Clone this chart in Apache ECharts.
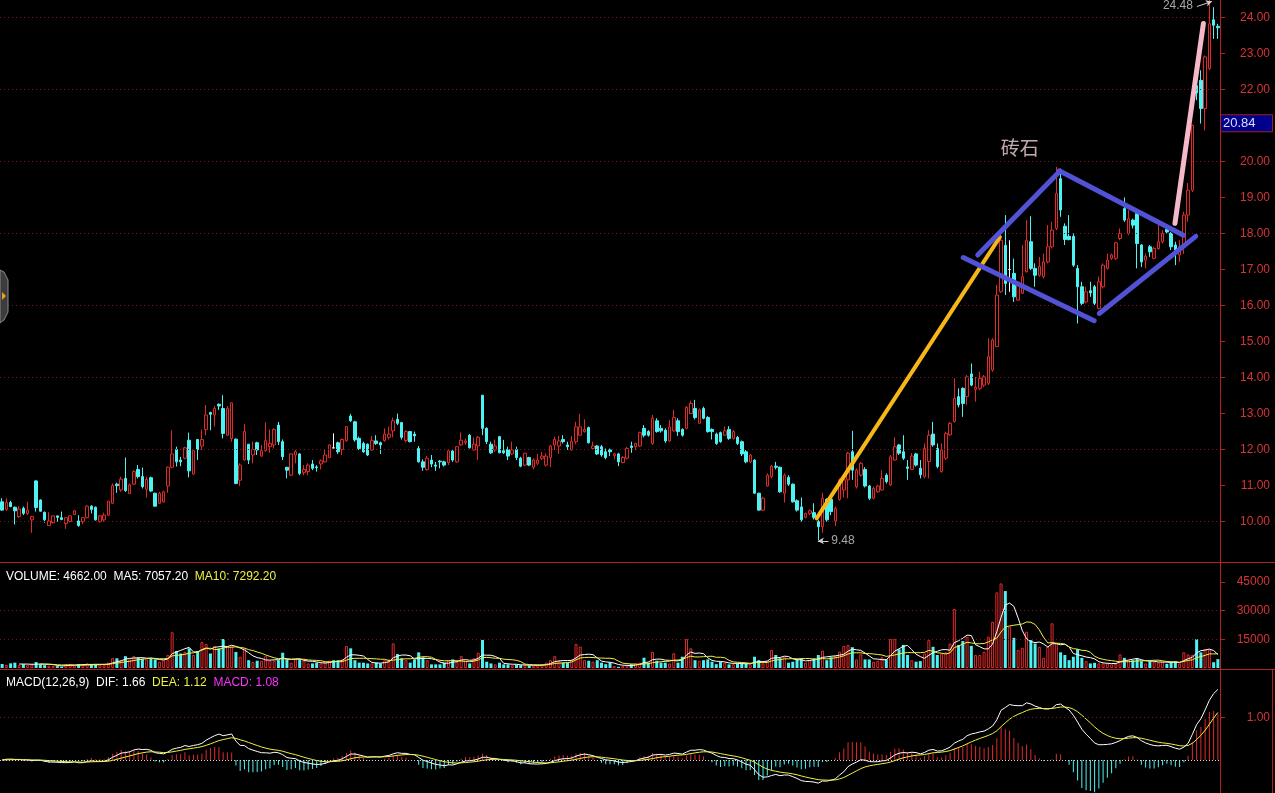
<!DOCTYPE html>
<html><head><meta charset="utf-8">
<script src="https://cdn.jsdelivr.net/npm/echarts@6/dist/echarts.min.js"></script>
<style>html,body{margin:0;padding:0;background:#000;}#c{width:1275px;height:793px;}</style>
</head><body><div id="c"></div>
<script>
// each candle: [open, close, low, high]
const candles = [
[10.55,10.32,10.30,10.65],[10.34,10.53,10.30,10.65],[10.53,10.42,10.40,10.58],[10.40,10.30,9.92,10.42],[10.14,10.35,10.11,10.43],
[10.37,10.23,10.18,10.42],[10.23,10.32,10.18,10.55],[10.05,10.14,9.69,10.16],[11.13,10.39,10.28,11.15],[10.60,10.29,10.28,10.62],
[10.26,10.05,9.97,10.28],[9.89,10.02,9.89,10.26],[9.97,10.16,9.95,10.18],[10.16,10.12,10.00,10.17],[10.11,10.06,10.04,10.28],
[9.95,10.11,9.80,10.13],[10.00,10.16,9.98,10.18],[10.20,10.30,10.18,10.32],[10.02,9.89,9.86,10.18],[10.00,10.11,9.93,10.12],
[10.11,10.43,10.09,10.45],[10.43,10.34,10.23,10.46],[10.40,10.05,10.03,10.42],[10.00,10.16,9.97,10.18],[10.05,10.18,10.00,10.25],
[10.18,10.57,10.16,10.57],[10.51,11.00,10.49,11.06],[11.04,11.00,10.80,11.08],[10.88,11.18,10.83,11.25],[11.20,10.86,10.83,11.78],
[10.78,11.02,10.77,11.06],[11.04,11.39,11.02,11.43],[11.45,11.25,11.20,11.57],[11.25,10.97,10.92,11.50],[10.90,11.17,10.67,11.25],
[11.22,10.85,10.83,11.25],[10.79,10.43,10.42,10.80],[10.51,10.79,10.49,10.83],[10.55,10.83,10.53,10.86],[10.99,11.51,10.80,11.53],
[11.51,11.88,11.48,12.54],[12.00,11.66,11.53,12.08],[11.71,11.66,11.54,11.80],[11.76,12.05,11.73,12.08],[12.26,11.41,11.23,12.47],
[11.32,11.97,11.31,11.99],[12.28,12.00,11.71,12.28],[12.10,12.28,11.99,12.56],[12.56,12.96,12.40,13.24],[13.03,12.98,12.54,13.05],
[12.96,13.14,12.64,13.21],[13.26,13.21,13.10,13.28],[13.14,12.45,12.31,13.51],[12.40,13.14,12.38,13.21],[12.31,13.30,12.22,13.30],
[12.29,11.06,11.04,12.31],[11.15,11.57,10.99,11.62],[11.71,12.50,11.69,12.71],[12.15,11.71,11.60,12.15],[11.85,12.00,11.62,12.22],
[12.19,11.99,11.85,12.22],[11.82,11.97,11.80,12.13],[11.97,12.25,11.94,12.76],[12.08,12.17,11.91,12.56],[12.13,12.56,12.03,12.59],
[12.68,12.22,12.13,12.77],[12.22,11.80,11.71,12.28],[11.51,11.43,11.20,11.51],[11.29,11.88,11.27,11.90],[11.85,11.94,11.62,11.99],
[11.88,11.34,11.29,11.90],[11.36,11.45,11.29,11.57],[11.39,11.57,11.29,11.62],[11.60,11.48,11.43,11.71],[11.52,11.50,11.39,11.57],
[11.60,11.69,11.45,11.73],[11.66,11.85,11.64,11.99],[11.78,12.13,11.76,12.15],[12.05,12.05,12.03,12.45],[12.19,11.94,11.88,12.22],
[12.00,12.28,11.85,12.31],[12.25,12.64,12.22,12.65],[12.93,12.80,12.77,12.99],[12.77,12.27,12.22,12.80],[12.31,12.03,11.99,12.36],
[12.17,11.94,11.91,12.22],[12.15,11.85,11.82,12.17],[11.99,12.25,11.97,12.38],[12.24,12.17,12.13,12.40],[12.19,12.13,11.88,12.22],
[12.25,12.43,12.22,12.59],[12.34,12.43,12.28,12.64],[12.52,12.80,12.34,12.89],[12.84,12.73,12.68,13.00],[12.75,12.34,12.28,12.77],
[12.25,12.50,12.20,12.54],[12.50,12.22,12.20,12.52],[12.43,12.38,12.22,12.50],[12.03,11.66,11.64,12.10],[11.66,11.51,11.41,11.73],
[11.45,11.76,11.41,11.82],[11.71,11.60,11.51,11.85],[11.57,11.54,11.41,11.66],[11.68,11.66,11.48,11.71],[11.66,11.57,11.53,11.69],
[11.64,11.97,11.57,11.99],[11.96,11.71,11.66,11.99],[11.66,12.08,11.64,12.10],[12.13,12.26,12.10,12.47],[12.20,12.24,12.13,12.31],
[12.40,12.05,12.03,12.43],[11.99,12.15,11.97,12.34],[12.10,12.34,11.71,12.38],[13.51,12.59,12.40,13.51],[12.59,12.22,12.15,12.62],
[12.15,11.91,11.88,12.22],[11.99,12.10,11.94,12.28],[12.36,11.91,11.90,12.38],[11.97,11.91,11.88,12.27],[12.00,11.82,11.71,12.08],
[11.88,11.99,11.85,12.22],[12.00,11.78,11.71,12.08],[11.76,11.54,11.51,11.80],[11.57,11.90,11.54,11.91],[11.78,11.57,11.54,11.80],
[11.51,11.71,11.45,11.76],[11.62,11.71,11.57,11.88],[11.76,11.82,11.71,11.94],[11.57,11.82,11.53,11.90],[11.78,12.10,11.51,12.13],
[12.13,12.28,11.99,12.36],[12.10,12.24,11.88,12.38],[12.28,12.22,12.17,12.40],[12.13,12.08,11.99,12.22],[11.99,12.22,11.97,12.38],
[12.22,12.63,12.15,12.77],[12.40,12.63,12.38,12.99],[12.50,12.56,12.47,12.84],[12.61,12.19,12.17,12.64],[12.03,12.10,11.99,12.22],
[12.10,11.88,11.85,12.13],[12.08,11.85,11.80,12.13],[11.94,11.78,11.73,12.03],[11.99,11.94,11.82,12.03],[11.83,11.88,11.73,11.91],
[11.88,11.66,11.54,11.91],[11.64,11.78,11.62,11.82],[11.76,12.03,11.73,12.08],[12.10,12.06,11.91,12.22],[12.08,12.17,11.99,12.19],
[12.10,12.47,12.08,12.50],[12.59,12.40,12.34,12.68],[12.50,12.40,12.36,12.54],[12.17,12.87,12.13,12.96],[12.80,12.50,12.47,12.87],
[12.59,12.52,12.47,12.68],[12.54,12.24,12.19,12.59],[12.24,12.63,12.22,12.82],[12.52,12.89,12.50,13.10],[12.80,12.50,12.38,12.87],
[12.56,12.40,12.36,12.59],[12.59,13.17,12.56,13.21],[13.00,13.28,12.99,13.36],[13.14,12.89,12.84,13.38],[12.73,13.10,12.71,13.14],
[13.14,12.87,12.84,13.19],[12.89,12.50,12.47,12.93],[12.56,12.50,12.28,12.59],[12.43,12.17,12.13,12.47],[12.47,12.22,12.19,12.50],
[12.40,12.52,12.38,12.64],[12.56,12.31,12.27,12.65],[12.31,12.50,12.28,12.54],[12.34,12.17,12.13,12.38],[12.22,11.88,11.82,12.25],
[11.94,11.66,11.62,11.99],[11.66,11.85,11.62,11.88],[11.71,10.79,10.77,11.73],[10.79,10.32,10.30,10.80],[10.32,10.65,10.30,10.69],
[10.99,11.29,10.97,11.34],[11.25,11.54,11.20,11.57],[11.54,11.51,11.45,11.66],[11.51,10.83,10.80,11.53],[10.79,11.29,10.53,11.34],
[11.23,11.04,10.99,11.29],[11.04,10.55,10.53,11.06],[10.58,10.32,10.28,10.62],[10.41,10.05,10.00,10.67],[10.12,10.23,10.09,10.25],
[10.23,10.30,10.18,10.34],[10.25,10.12,10.06,10.51],[10.00,9.86,9.48,10.05],[9.86,10.65,9.69,10.80],[10.62,10.05,10.00,10.65],
[10.62,10.28,10.18,10.65],[10.02,10.37,9.88,10.42],[10.62,11.16,10.58,11.20],[10.88,11.16,10.67,11.20],[11.16,11.90,10.65,11.94],
[11.94,11.43,11.16,12.52],[10.97,11.43,10.92,11.48],[11.29,11.62,11.25,11.66],[11.45,10.99,10.95,11.51],[10.99,10.65,10.60,11.02],
[10.65,10.92,10.62,10.97],[10.83,10.99,10.80,11.02],[10.88,11.20,10.86,11.43],[11.29,11.11,11.06,11.34],[11.02,11.80,10.99,11.85],
[11.71,12.08,11.69,12.34],[12.13,11.90,11.85,12.15],[11.94,11.76,11.71,12.40],[11.52,11.48,11.16,11.71],[11.45,11.82,11.43,11.90],
[11.88,11.57,11.53,11.91],[11.48,11.30,11.20,11.71],[11.25,12.03,11.20,12.17],[11.67,12.40,11.20,12.54],[12.43,12.13,12.08,12.77],
[12.03,11.53,11.48,12.17],[11.39,11.99,11.36,12.17],[11.76,12.45,11.71,12.50],[12.41,12.73,12.38,12.77],[12.78,13.42,12.75,13.98],
[13.47,13.24,13.17,13.70],[13.70,13.28,12.91,13.73],[13.47,14.02,13.24,14.07],[14.10,13.79,13.76,14.39],[13.67,13.73,13.33,14.02],
[13.70,13.98,13.65,14.16],[13.79,14.02,13.73,14.07],[13.84,14.58,13.79,15.09],[14.21,15.04,14.16,15.09],[14.86,16.29,14.84,16.57],
[16.38,17.81,16.35,18.04],[17.67,16.61,16.29,18.51],[17.00,17.00,16.38,17.81],[16.89,16.24,16.10,17.30],[16.15,16.57,16.13,16.66],
[16.34,16.80,16.32,17.68],[16.94,17.81,16.91,18.37],[17.77,17.03,16.98,18.48],[17.03,16.84,16.52,17.17],[16.84,17.09,16.80,17.35],
[16.80,17.21,16.75,17.44],[17.21,17.63,17.17,18.23],[17.63,18.09,17.58,18.32],[18.14,19.11,18.09,19.85],[19.52,18.65,18.46,19.80],
[18.20,17.83,17.68,18.28],[17.92,17.83,17.81,18.51],[17.92,17.12,17.07,18.00],[17.03,16.52,15.50,17.12],[16.52,16.06,16.01,16.66],
[16.10,16.38,16.06,16.52],[16.41,16.35,16.24,16.66],[16.52,16.06,16.01,16.57],[15.92,16.66,15.89,16.80],[16.52,17.12,16.47,17.17],
[17.03,17.26,17.00,17.44],[17.31,17.40,17.26,17.44],[17.31,17.74,17.26,17.77],[17.86,18.00,17.81,18.14],[18.69,18.37,18.32,19.00],
[18.00,18.41,17.95,18.65],[18.37,18.23,18.14,18.41],[18.55,17.72,17.03,18.60],[17.68,17.21,17.07,17.70],[17.26,17.37,17.03,17.44],
[17.63,17.49,17.35,17.68],[17.31,17.58,17.28,17.63],[17.58,17.77,17.55,18.37],[17.77,18.00,17.72,18.09],[18.11,18.04,18.00,18.23],
[18.00,17.63,17.54,18.04],[17.68,17.54,17.12,17.77],[17.40,17.63,17.21,17.81],[17.63,18.51,17.43,18.60],[18.51,19.20,18.32,19.40],
[19.20,21.00,19.15,21.02],[22.10,21.90,21.70,22.20],[22.25,21.47,21.05,22.53],[21.47,22.90,20.86,22.94],[22.58,23.82,22.53,24.48],
[23.93,23.78,23.40,24.28],[23.75,23.71,23.40,23.82]
];
const volumes = [
2100,1575,2450,2800,1500,2000,1500,1900,3100,2000,
1500,1200,1200,1000,700,2000,2000,1500,2000,1500,
2400,1900,1900,1900,1500,2800,5200,5100,4100,6200,
4500,6200,5500,4900,4500,4900,4500,3300,4100,6800,
18700,8900,7600,8500,10300,6800,8900,13600,12600,7600,
11500,10300,15200,11500,11200,8400,5900,10300,4100,3100,
3800,3800,6200,3800,3800,4100,8000,4500,2800,4500,
4500,3800,2400,2400,2800,2400,3000,3800,4100,4100,
4500,11500,10300,4100,2800,2800,2400,2400,2800,2400,
4100,4500,12900,7300,5100,4100,2800,4500,8200,5600,
4100,1900,1900,1900,2800,4100,4500,3300,6200,3800,
2400,5100,8000,14700,3300,2400,1900,2800,1900,1900,
1400,1700,1500,1500,1300,1200,1500,1900,2800,4100,
6200,3600,2800,2800,4500,12600,11200,4100,3800,3300,
4100,2800,2000,2800,1000,600,1000,1500,2000,2400,
2800,5400,2800,8400,3800,2800,2800,2400,7700,2800,
5900,15200,10300,4100,3800,4100,4500,3300,2000,3300,
2800,1900,2000,2400,2400,2400,1900,5900,4100,2400,
3800,9400,6800,5100,5900,2800,3300,4500,5100,2800,
4100,5100,6800,9100,4100,5600,6200,8600,11500,12100,
10900,4500,7200,4500,4500,3300,3800,5600,4500,15200,
15200,9800,12100,6800,4100,3300,3600,7600,14600,11100,
6800,7600,8200,12800,30900,12000,14100,16400,11600,6800,
6800,8500,16400,24200,39600,44300,40300,21600,15800,9400,
10600,19000,14600,12800,11100,5300,11100,23400,12800,8200,
6800,4100,5900,9900,5300,3600,2400,2700,2400,2400,
2400,1900,2400,7100,5300,4100,4100,4700,3600,2400,
3600,3300,2900,3300,2200,2900,3600,2400,8200,7100,
6800,15100,8200,9800,9600,3022,4662
];
const priceTicks = [10,11,12,13,14,15,16,17,18,19,20,21,22,23,24];
const priceGridLines = [10,12,14,16,18,20,22,24];
const volumeTicks = [15000,30000,45000];
const volumeGridLines = [15000,30000];
const macdTicks = [1.0];
const cursorPrice = 20.84;
const volumeHeader = {vol:'4662.00', ma5:'7057.20', ma10:'7292.20'};
const macdHeader = {dif:'1.66', dea:'1.12', macd:'1.08'};
// annotation drawings, in [candle index, price]
const orangeTrend = [[191.6,10.09],[234.7,17.90]];
const pinkTrend = [[275.9,18.28],[282.6,23.83]];
const diamondEdges = [
  [[229.5,17.40],[248.7,19.71]],
  [[248.7,19.74],[277.9,17.95]],
  [[226.1,17.33],[256.9,15.58]],
  [[258.1,15.78],[280.8,17.92]]
];
const patternLabel = {text:'砖石', at:[239.4,20.37]};
const highNote = {text:'24.48', at:[280.6,24.32], arrow:[[281.1,24.30],[284.6,24.44]]};
const lowNote = {text:'9.48', at:[194.6,9.465], arrow:[[194.4,9.465],[191.9,9.465]]};

const RED='#e02a2a', CYAN='#4ff2f2', AXRED='#b52020', LBL='#d83434';
const N = candles.length;
const cats = candles.map((_,i)=>String(i));
const isUp = candles.map((c,i)=> c[1]>c[0] || (c[1]===c[0] && i>0 && c[1]>=candles[i-1][1]));
function sma(arr,n){return arr.map((v,i)=>{if(i<n-1)return '-';let s=0;for(let k=i-n+1;k<=i;k++)s+=arr[k];return +(s/n).toFixed(2);});}
function ema(arr,n){const k=2/(n+1);const o=[];arr.forEach((v,i)=>o.push(i===0?v:o[i-1]+k*(v-o[i-1])));return o;}
const closes = candles.map(c=>c[1]);
const e12=ema(closes,12), e26=ema(closes,26);
const dif=e12.map((v,i)=>v-e26[i]);
const dea=ema(dif,9);
const macd=dif.map((v,i)=>2*(v-dea[i]));

const chart = echarts.init(document.getElementById('c'), null, {renderer:'canvas'});
const FONT='Liberation Sans, Arial, sans-serif';
const labelBase = {color:LBL, fontSize:12, fontFamily:FONT, align:'right', margin:50};

function segSeries(pts,color,width){
  return {type:'line', xAxisIndex:3, yAxisIndex:0, data:pts, symbol:'none', silent:true,
    lineStyle:{color:color,width:width,cap:'round'}, z:5};
}

const series = [
  {type:'candlestick', xAxisIndex:0, yAxisIndex:0, data:candles.map(c=>[c[0],c[1],c[2],c[3]]), barWidth:3,
   itemStyle:{color:'#000', color0:CYAN, borderColor:RED, borderColor0:CYAN, borderColorDoji:'#ffffff', borderWidth:1},
   markLine:{silent:true, symbol:'none', animation:false,
     data: priceGridLines.map(v=>({yAxis:v, lineStyle:{color:'#7c1616',type:[1,3],width:1}, label:{show:false}}))
       .concat([{yAxis:cursorPrice, lineStyle:{color:'rgba(0,0,0,0)', width:1}, label:{show:true, position:'end', distance:1, formatter:cursorPrice.toFixed(2),
          backgroundColor:'#00008c', color:'#dcdcff', fontSize:13, fontFamily:FONT, width:47, padding:[2,2,1,2], verticalAlign:'bottom',
          borderColor:'#a02020', borderWidth:1}}])}
  },
  segSeries(orangeTrend,'#f7b718',4),
  segSeries(pinkTrend,'#f6b9c9',5),
  ...diamondEdges.map(e=>segSeries(e,'#5252d6',5)),
  {type:'scatter', xAxisIndex:3, yAxisIndex:0, symbolSize:0, silent:true, z:6,
   data:[{value:patternLabel.at, label:{show:true, position:'inside', formatter:patternLabel.text, color:'#f2d4d4', fontSize:19, fontFamily:'Noto Sans CJK SC'}},
         {value:highNote.at, label:{show:true, position:'left', distance:2, formatter:highNote.text, color:'#cfcfcf', fontSize:12, fontFamily:FONT}},
         {value:lowNote.at, label:{show:true, position:'right', distance:2, formatter:lowNote.text, color:'#cfcfcf', fontSize:12, fontFamily:FONT}}],
   markLine:{silent:true, animation:false, symbol:['none','arrow'], symbolSize:[5,6], label:{show:false},
     lineStyle:{color:'#cfcfcf', width:1, type:'solid'},
     data:[[{coord:highNote.arrow[0]},{coord:highNote.arrow[1]}],[{coord:lowNote.arrow[0]},{coord:lowNote.arrow[1]}]]}
  },
  {type:'bar', xAxisIndex:1, yAxisIndex:1, barWidth:3,
   data:volumes.map((v,i)=>({value:v, itemStyle: isUp[i] ? {color:'#000', borderColor:RED, borderWidth:1} : {color:CYAN}})),
   markLine:{silent:true, symbol:'none', animation:false, label:{show:false},
     data:volumeGridLines.map(v=>({yAxis:v})), lineStyle:{color:'#7c1616', type:[1,3], width:1}}
  },
  {type:'line', xAxisIndex:1, yAxisIndex:1, data:sma(volumes,5), symbol:'none', lineStyle:{color:'#ffffff',width:1}, silent:true},
  {type:'line', xAxisIndex:1, yAxisIndex:1, data:sma(volumes,10), symbol:'none', lineStyle:{color:'#f0f040',width:1}, silent:true},
  {type:'bar', xAxisIndex:2, yAxisIndex:2, barWidth:1,
   data:macd.map(v=>({value:+v.toFixed(4), itemStyle:{color: v>=0?RED:CYAN}})),
   markLine:{silent:true, symbol:'none', animation:false, label:{show:false},
     data:[{yAxis:1, lineStyle:{color:'#7c1616',type:[1,3],width:1}},{yAxis:0, lineStyle:{color:'#dddddd',type:[1,2],width:1}}]}
  },
  {type:'line', xAxisIndex:2, yAxisIndex:2, data:dif.map(v=>+v.toFixed(4)), symbol:'none', lineStyle:{color:'#ffffff',width:1}, silent:true},
  {type:'line', xAxisIndex:2, yAxisIndex:2, data:dea.map(v=>+v.toFixed(4)), symbol:'none', lineStyle:{color:'#f0f040',width:1}, silent:true}
];

const hiddenCat = (g)=>({type:'category', gridIndex:g, data:cats, boundaryGap:true, show:false});
const option = {
  backgroundColor:'#000',
  animation:false,
  title:[
    {left:1, top:566, text:'{w|VOLUME: '+volumeHeader.vol+'  MA5: '+volumeHeader.ma5+'}  {y|MA10: '+volumeHeader.ma10+'}',
     textStyle:{fontSize:12, fontWeight:'normal', fontFamily:FONT, rich:{w:{color:'#ffffff',fontSize:12,fontFamily:FONT},y:{color:'#f0f040',fontSize:12,fontFamily:FONT}}}},
    {left:1, top:672, text:'{w|MACD(12,26,9)  DIF: '+macdHeader.dif+'}  {y|DEA: '+macdHeader.dea+'}  {m|MACD: '+macdHeader.macd+'}',
     textStyle:{fontSize:12, fontWeight:'normal', fontFamily:FONT, rich:{w:{color:'#ffffff',fontSize:12,fontFamily:FONT},y:{color:'#f0f040',fontSize:12,fontFamily:FONT},m:{color:'#ff30ff',fontSize:12,fontFamily:FONT}}}}
  ],
  grid:[
    {left:0, top:0, width:1220, height:562},
    {left:0, top:563, width:1220, height:105},
    {left:0, top:670, width:1220, height:123}
  ],
  xAxis:[hiddenCat(0), hiddenCat(1), hiddenCat(2),
    {type:'value', gridIndex:0, min:-0.5, max:N-0.5, show:false, axisLine:{onZero:false}}],
  yAxis:[
    {type:'value', gridIndex:0, position:'right', min:8.88, max:24.48, scale:true,
     axisLine:{show:false, onZero:false}, splitLine:{show:false},
     axisTick:{show:true, inside:false, length:5, lineStyle:{color:AXRED}, customValues:priceTicks},
     axisLabel:Object.assign({}, labelBase, {customValues:priceTicks, formatter:v=>Number(v).toFixed(2)})},
    {type:'value', gridIndex:1, position:'right', min:0, max:55000,
     axisLine:{show:false, onZero:false}, splitLine:{show:false},
     axisTick:{show:true, inside:false, length:5, lineStyle:{color:AXRED}, customValues:volumeTicks},
     axisLabel:Object.assign({}, labelBase, {customValues:volumeTicks, formatter:v=>String(Math.round(v))})},
    {type:'value', gridIndex:2, position:'right', min:-0.773, max:2.108,
     axisLine:{show:false, onZero:false}, splitLine:{show:false},
     axisTick:{show:true, inside:false, length:5, lineStyle:{color:AXRED}, customValues:macdTicks},
     axisLabel:Object.assign({}, labelBase, {customValues:macdTicks, formatter:v=>Number(v).toFixed(2)})}
  ],
  graphic:[
    {type:'line', silent:true, shape:{x1:1220.5,y1:0,x2:1220.5,y2:793}, style:{stroke:AXRED, lineWidth:1}, z:100},
    {type:'line', silent:true, shape:{x1:0,y1:562.5,x2:1275,y2:562.5}, style:{stroke:AXRED, lineWidth:1}, z:100},
    {type:'line', silent:true, shape:{x1:0,y1:669.5,x2:1275,y2:669.5}, style:{stroke:AXRED, lineWidth:1}, z:100},
    {type:'line', silent:true, shape:{x1:1272.5,y1:669,x2:1272.5,y2:793}, style:{stroke:AXRED, lineWidth:1}, z:100},
    {type:'polygon', silent:true, shape:{points:[[0,270],[4,272],[8,280],[8,312],[4,320],[0,323]]}, style:{fill:'#3c3c3c', stroke:'#8a8a8a', lineWidth:1}, z:100},
    {type:'polygon', silent:true, shape:{points:[[2,292],[6,296],[2,300]]}, style:{fill:'#f0a020'}, z:101}
  ],
  series: series
};
chart.setOption(option);
</script></body></html>
